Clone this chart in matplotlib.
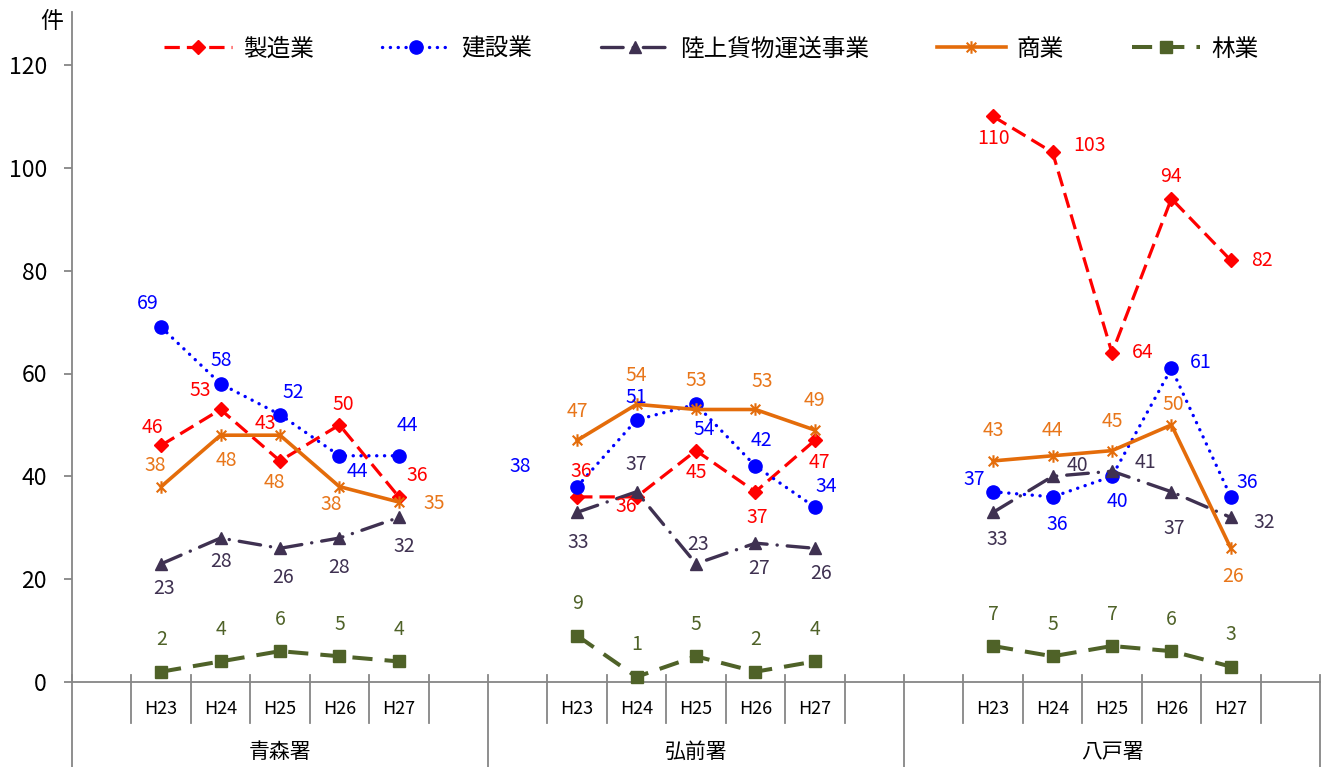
import numpy as np
import matplotlib
matplotlib.use('Agg')
import matplotlib.pyplot as plt
from matplotlib.lines import Line2D
from matplotlib.path import Path

plt.rcParams['font.family'] = ['Noto Sans CJK JP', 'DejaVu Sans']

# ---------------- data ----------------
groups = ['青森署', '弘前署', '八戸署']
years = ['H23', 'H24', 'H25', 'H26', 'H27']
series_names = ['製造業', '建設業', '陸上貨物運送事業', '商業', '林業']

seizo = [46, 53, 43, 50, 36, 36, 36, 45, 37, 47, 110, 103, 64, 94, 82]
kensetsu = [69, 58, 52, 44, 44, 38, 51, 54, 42, 34, 37, 36, 40, 61, 36]
rikujo = [23, 28, 26, 28, 32, 33, 37, 23, 27, 26, 33, 40, 41, 37, 32]
shogyo = [38, 48, 48, 38, 35, 47, 54, 53, 53, 49, 43, 44, 45, 50, 26]
ringyo = [2, 4, 6, 5, 4, 9, 1, 5, 2, 4, 7, 5, 7, 6, 3]

y_ticks = [0, 20, 40, 60, 80, 100, 120]
unit_label = '件'

# label offsets in pixels (dx right, dy down) -- layout only
off_seizo = [(-9, -18), (-20, -19), (-15, -37), (4, -20), (18, -21),
             (4, -25), (-10, 10), (0, 22), (2, 26), (5, 22),
             (0, 22), (37, -7), (31, 0), (0, -22), (31, 0)]
off_kensetsu = [(-13, -24), (1, -23), (13, -22), (18, 16), (9, -30),
                (-57, -20), (0, -22), (8, 25), (6, -26), (11, -21),
                (-19, -12), (5, 28), (5, 25), (29, -6), (16, -14)]
off_rikujo = [(3, 25), (0, 23), (3, 29), (0, 29), (5, 29),
              (1, 30), (0, -27), (2, -19), (4, 25), (6, 25),
              (4, 27), (25, -11), (33, -9), (3, 37), (33, 5)]
off_shogyo = [(-6, -21), (6, 25), (-6, 47), (-8, 18), (35, 1),
              (0, -29), (0, -29), (0, -29), (7, -28), (0, -30),
              (0, -30), (0, -25), (0, -29), (2, -20), (2, 28)]
off_ringyo = [(0, -32)] * 15

# ---------------- styles ----------------
c_red = '#FF0000'
c_blue = '#0000FF'
c_dark = '#3F3151'
c_orange = '#E46C0A'
c_green = '#4F6228'
c_axis = '#868686'

star_marker = Path([(-1, -1), (1, 1), (-1, 1), (1, -1), (0, -1.3), (0, 1.3)],
                   [Path.MOVETO, Path.LINETO, Path.MOVETO, Path.LINETO,
                    Path.MOVETO, Path.LINETO])

styles = [
    dict(color=c_red, lw=2.3, ls=(0, (4.8, 2.2)), marker='D', ms=7.5,
         dash_capstyle='butt'),
    dict(color=c_blue, lw=2.4, ls=(0, (0.05, 2.3)), marker='o', ms=9.5,
         dash_capstyle='round'),
    dict(color=c_dark, lw=2.4, ls=(0, (6.5, 3.0, 0.05, 3.0)), marker='^', ms=9,
         dash_capstyle='round'),
    dict(color=c_orange, lw=2.6, ls='-', marker=star_marker, ms=9, mew=1.5),
    dict(color=c_green, lw=2.9, ls=(0, (5.0, 3.0)), marker='s', ms=8,
         dash_capstyle='butt'),
]
label_colors = [c_red, c_blue, c_dark, '#E8761A', c_green]
all_series = [seizo, kensetsu, rikujo, shogyo, ringyo]
all_offsets = [off_seizo, off_kensetsu, off_rikujo, off_shogyo, off_ringyo]

W, H = 1324, 767
fig = plt.figure(figsize=(W / 100, H / 100), dpi=100)
ax = fig.add_axes([72 / W, 1 - 682 / H, (1320 - 72) / W, (682 - 12) / H])
px_per_unit = (682 - 65) / 120.0
ax.set_ylim(0, (682 - 12) / px_per_unit)
n_slots = 7 * len(groups)
ax.set_xlim(0, n_slots)

def xpos(g, j):
    return g * 7 + 1 + j + 0.5

for s_idx, (vals, st, offs) in enumerate(zip(all_series, styles, all_offsets)):
    for g in range(len(groups)):
        xs = [xpos(g, j) for j in range(len(years))]
        ys = vals[g * 5:(g + 1) * 5]
        ax.plot(xs, ys, color=st['color'], lw=st['lw'], ls=st['ls'],
                marker=st['marker'], ms=st['ms'], mew=st.get('mew', 1.0),
                dash_capstyle=st.get('dash_capstyle', 'butt'),
                zorder=3 + s_idx * 0.1, clip_on=False)
        for j in range(len(years)):
            k = g * 5 + j
            dx, dy = offs[k]
            ax.annotate(str(vals[k]), (xs[j], ys[j]), xytext=(dx, -dy),
                        textcoords='offset pixels', ha='center', va='center',
                        fontsize=14, color=label_colors[s_idx], zorder=6)

# axes styling
for sp in ['top', 'right']:
    ax.spines[sp].set_visible(False)
ax.spines['left'].set_color(c_axis)
ax.spines['left'].set_linewidth(1.3)
ax.spines['bottom'].set_color(c_axis)
ax.spines['bottom'].set_linewidth(1.3)
ax.set_yticks(y_ticks)
ax.set_yticklabels([str(v) for v in y_ticks])
ax.tick_params(axis='y', direction='out', length=6, width=1.3, color=c_axis,
               labelsize=16.5, pad=12)
ax.set_xticks([])

# category axis lines
tr = ax.get_xaxis_transform()
ax_h_px = 682 - 12
def afrac(py):
    return (682 - py) / ax_h_px

for b in range(n_slots + 1):
    if b % 7 == 0:
        ax.plot([b, b], [afrac(675), afrac(767)], transform=tr, color=c_axis,
                lw=1.3, clip_on=False, zorder=2)
    else:
        ax.plot([b, b], [afrac(675), afrac(723)], transform=tr, color=c_axis,
                lw=1.3, clip_on=False, zorder=2)

for g in range(len(groups)):
    for j, yl in enumerate(years):
        ax.text(xpos(g, j), afrac(709), yl, transform=tr, ha='center',
                va='center', fontsize=13)
    ax.text(g * 7 + 3.5, afrac(752), groups[g], transform=tr, ha='center',
            va='center', fontsize=15)

fig.text(52 / W, 1 - 22 / H, unit_label, ha='center', va='center', fontsize=16.5)

handles = []
for st in styles:
    handles.append(Line2D([], [], color=st['color'], lw=st['lw'], ls=st['ls'],
                          marker=st['marker'], ms=st['ms'],
                          mew=st.get('mew', 1.0),
                          dash_capstyle=st.get('dash_capstyle', 'butt')))
fig.legend(handles, series_names, loc='center',
           bbox_to_anchor=(711 / W, 1 - 49 / H), ncol=5, frameon=False,
           fontsize=17, handlelength=2.9, handletextpad=0.45,
           columnspacing=2.9, borderpad=0, borderaxespad=0)

fig.savefig('out.png', dpi=100)
